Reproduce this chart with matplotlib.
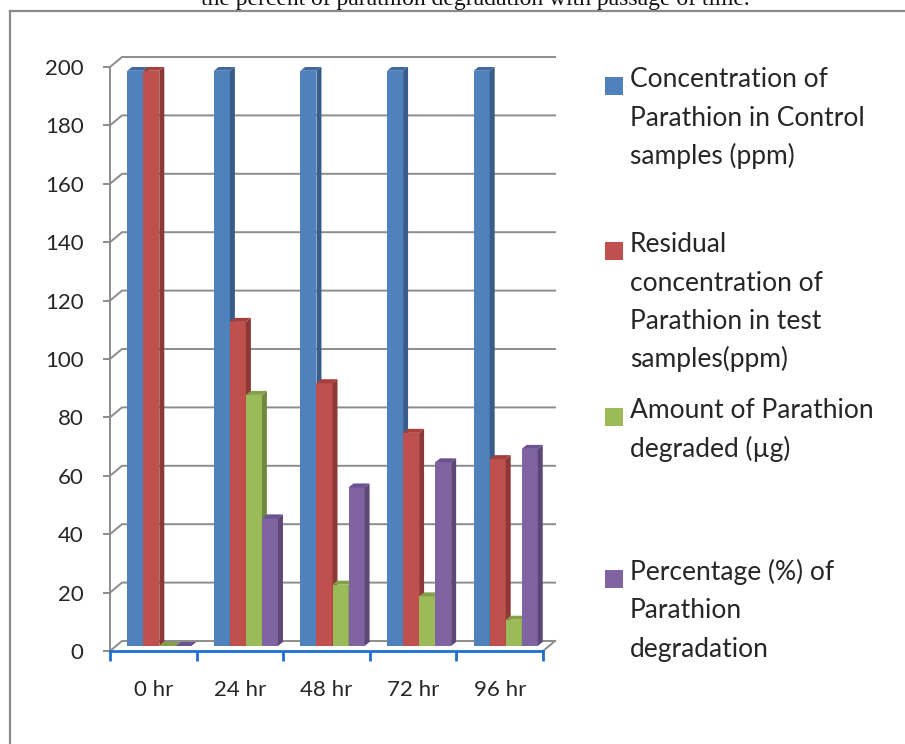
import matplotlib
matplotlib.use("Agg")
import matplotlib.pyplot as plt
from matplotlib.patches import Polygon, Rectangle
from matplotlib.lines import Line2D

# data
categories = ["0 hr", "24 hr", "48 hr", "72 hr", "96 hr"]
control_ppm = [197, 197, 197, 197, 197]
residual_ppm = [197, 111, 90, 73, 64]
degraded_ug = [0, 86, 21, 17, 9]
percent_degr = [0, 43.7, 54.3, 62.9, 67.5]
series = [control_ppm, residual_ppm, degraded_ug, percent_degr]
series_names = [
    "Concentration of\nParathion in Control\nsamples (ppm)",
    "Residual\nconcentration of\nParathion in test\nsamples(ppm)",
    "Amount of Parathion\ndegraded (\u00b5g)",
    "Percentage (%) of\nParathion\ndegradation",
]
yticks = [0, 20, 40, 60, 80, 100, 120, 140, 160, 180, 200]

front_cols = ["#4f81bd", "#c0504d", "#9bbb59", "#8064a2"]
side_cols = ["#385d8a", "#8c3836", "#71893f", "#5c4776"]
top_cols = ["#41699e", "#a5403d", "#83a048", "#6b5290"]

plt.rcParams["font.family"] = ["Lato", "DejaVu Sans"]

W, H = 905, 744
fig = plt.figure(figsize=(W / 100, H / 100), dpi=100)

# plot area in pixels (front plane)
L, R, T, B = 110, 543, 67, 651
ax = fig.add_axes([L / W, (H - B) / H, (R - L) / W, (B - T) / H])
ax.set_xlim(-0.5, len(categories) - 0.5)
ax.set_ylim(0, 200)

# pixel -> data conversions
sx = (R - L) / len(categories)
sy = (B - T) / 200.0
bdx, bdy = 12 / sx, 10 / sy    # back wall
mdx, mdy = 6 / sx, 5 / sy      # bars sit mid-depth
ddx, ddy = 5 / sx, 4 / sy      # bar depth

grid_c = "#8c8c8c"
for v in yticks:
    ax.plot([-0.5, -0.5 + bdx, 4.5 + bdx], [v, v + bdy, v + bdy],
            color=grid_c, lw=1.4, clip_on=False, zorder=1)
ax.plot([4.5, 4.5 + bdx], [0, bdy], color=grid_c, lw=1.4, clip_on=False, zorder=1)

# bars, left to right so each front hides previous side face
w = 0.185
z = 3
for i in range(len(categories)):
    for k, vals in enumerate(series):
        x0 = i + (k - 2) * w + mdx
        h = vals[i]
        ax.bar(x0, h, width=w, bottom=mdy, align="edge", color=front_cols[k],
               lw=0, zorder=z)
        side = Polygon([(x0 + w, mdy), (x0 + w + ddx, mdy + ddy),
                        (x0 + w + ddx, mdy + h + ddy), (x0 + w, mdy + h)],
                       closed=True, color=side_cols[k], lw=0, zorder=z)
        top = Polygon([(x0, mdy + h), (x0 + ddx, mdy + h + ddy),
                       (x0 + w + ddx, mdy + h + ddy), (x0 + w, mdy + h)],
                      closed=True, color=top_cols[k], lw=0, zorder=z)
        ax.add_patch(side)
        ax.add_patch(top)
        z += 1

for s in ["top", "right"]:
    ax.spines[s].set_visible(False)
ax.spines["left"].set_color(grid_c)
ax.spines["left"].set_linewidth(1.4)
ax.spines["bottom"].set_color("#1f6fd1")
ax.spines["bottom"].set_linewidth(2)
ax.spines["bottom"].set_zorder(50)

ax.set_yticks(yticks)
ax.tick_params(axis="y", colors=grid_c, length=5, width=1.4, pad=14,
               labelsize=16, labelcolor="#262626")
ax.set_xticks([i - 0.5 for i in range(len(categories) + 1)])
ax.set_xticklabels([])
ax.tick_params(axis="x", which="major", colors="#1f6fd1", length=7, width=2)
ax.set_xticks(range(len(categories)), minor=True)
ax.set_xticklabels(categories, minor=True)
ax.tick_params(axis="x", which="minor", length=0, pad=21, labelsize=16,
               labelcolor="#262626")
ax.set_facecolor("none")

# legend drawn by hand so squares align with the first line
bases = [87, 252, 418, 580]
line_h = 38.5
for k, name in enumerate(series_names):
    b = bases[k]
    fig.patches.append(Rectangle((605 / W, (H - b - 8) / H), 18 / W, 18 / H,
                                 transform=fig.transFigure, color=front_cols[k], lw=0))
    for j, line in enumerate(name.split("\n")):
        fig.text(630 / W, (H - b - j * line_h) / H, line, fontsize=19,
                 color="#262626", va="baseline", ha="left")

# frame of the chart area
fig.add_artist(Line2D([10 / W, 10 / W], [0, (H - 11) / H], color="#8a8a8a", lw=1.6,
                      transform=fig.transFigure))
fig.add_artist(Line2D([10 / W, 1], [(H - 11) / H, (H - 11) / H], color="#8a8a8a",
                      lw=1.6, transform=fig.transFigure))

# caption cut off at the top, as in the source image
fig.text(475 / W, (H - 5) / H, "the percent of parathion degradation with passage of time.",
         family="Liberation Serif", fontsize=17, ha="center", va="baseline", color="#111111")

fig.savefig("out.png", dpi=100)
